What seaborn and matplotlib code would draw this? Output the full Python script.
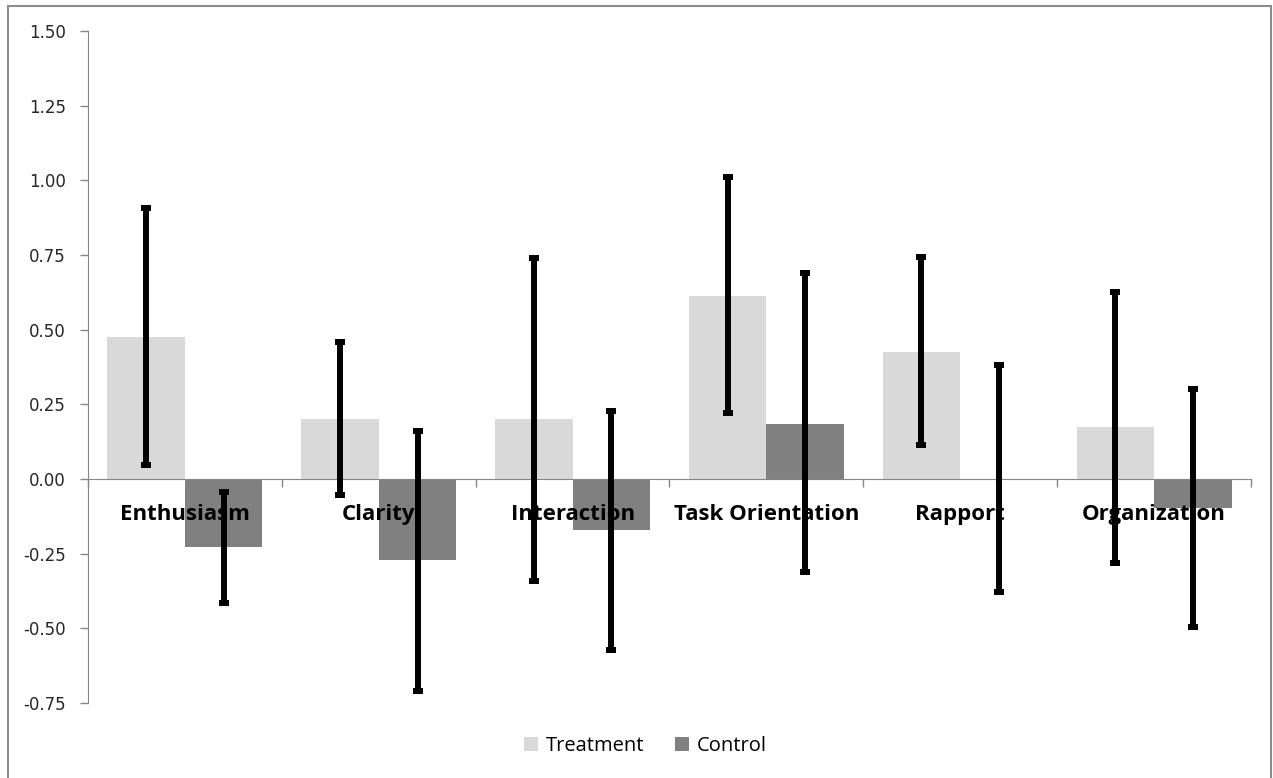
import matplotlib
matplotlib.use("Agg")
import matplotlib.pyplot as plt
from matplotlib.patches import Patch, Rectangle
from matplotlib.container import BarContainer
import seaborn as sns
import pandas as pd
import numpy as np

categories = ["Enthusiasm", "Clarity", "Interaction", "Task Orientation", "Rapport", "Organization"]
treatment = [0.476, 0.20, 0.20, 0.612, 0.425, 0.173]
control = [-0.227, -0.272, -0.172, 0.185, 0.0, -0.096]
treat_lo = [0.047, -0.054, -0.34, 0.22, 0.115, -0.282]
treat_hi = [0.906, 0.46, 0.74, 1.012, 0.742, 0.627]
ctrl_lo = [-0.414, -0.71, -0.572, -0.31, -0.378, -0.494]
ctrl_hi = [-0.042, 0.162, 0.228, 0.69, 0.382, 0.30]
yticks = [-0.75, -0.50, -0.25, 0.00, 0.25, 0.50, 0.75, 1.00, 1.25, 1.50]
series = ["Treatment", "Control"]
colors = ["#D9D9D9", "#808080"]

df = pd.DataFrame({
    "category": categories * 2,
    "group": [series[0]] * len(categories) + [series[1]] * len(categories),
    "value": treatment + control,
})

fig = plt.figure(figsize=(12.73, 7.78), dpi=100)
ax = fig.add_axes([88 / 1273, 1 - 703 / 778, (1251 - 88) / 1273, (703 - 31) / 778])

sns.barplot(data=df, x="category", y="value", hue="group", hue_order=series,
            palette=colors, errorbar=None, width=0.8, saturation=1,
            linewidth=0, ax=ax, legend=False)

los = [treat_lo, ctrl_lo]
his = [treat_hi, ctrl_hi]
vals = [treatment, control]
bar_conts = [c for c in ax.containers if isinstance(c, BarContainer)]
for ci, cont in enumerate(bar_conts):
    xs = [p.get_x() + p.get_width() / 2 for p in cont]
    v = np.array(vals[ci])
    lo = np.array(los[ci])
    hi = np.array(his[ci])
    ax.errorbar(xs, v, yerr=[v - lo, hi - v], fmt="none", ecolor="black",
                elinewidth=4.3, capsize=3.4, capthick=4.3, zorder=3)

for s in ["top", "right"]:
    ax.spines[s].set_visible(False)
ax.spines["bottom"].set_position(("data", 0))
ax.spines["bottom"].set_color("#868686")
ax.spines["left"].set_color("#868686")
ax.spines["bottom"].set_zorder(1.2)
ax.patch.set_visible(False)

ax.set_axisbelow("line")
ax.set_ylim(-0.75, 1.5)
ax.set_xlim(-0.5, len(categories) - 0.5)
ax.set_xlabel("")
ax.set_ylabel("")

ax.set_yticks(yticks)
ax.set_yticklabels([f"{t:.2f}" for t in yticks])
ax.set_xticks(range(len(categories)))
ax.set_xticklabels(categories)
ax.set_xticks(np.arange(-0.5, len(categories) + 0.5, 1), minor=True)
ax.tick_params(axis="x", which="major", length=0, pad=18, labelsize=16, labelcolor="#000000")
ax.tick_params(axis="x", which="minor", length=6, color="#868686", width=1, direction="out")
ax.tick_params(axis="y", length=6, color="#868686", width=1, direction="out", pad=10,
               labelsize=12, labelcolor="#262626")
for lbl in ax.get_xticklabels():
    lbl.set_fontweight("bold")
    lbl.set_family("Open Sans")
for lbl in ax.get_yticklabels():
    lbl.set_family("DejaVu Sans")

handles = [Patch(facecolor=c, edgecolor="none", label=s) for c, s in zip(colors, series)]
fig.legend(handles=handles, loc="center", bbox_to_anchor=(0.507, 0.041), ncol=2,
           frameon=False, handlelength=0.7, handleheight=0.7, handletextpad=0.4,
           columnspacing=1.5, prop={"family": "Open Sans", "size": 14.5})

fig.patches.append(Rectangle((8 / 1273, -0.01), (1271 - 8) / 1273, 1.01 - 6 / 778,
                             transform=fig.transFigure, fill=False,
                             edgecolor="#8c8c8c", linewidth=1.5))

fig.savefig("out.png", dpi=100)
